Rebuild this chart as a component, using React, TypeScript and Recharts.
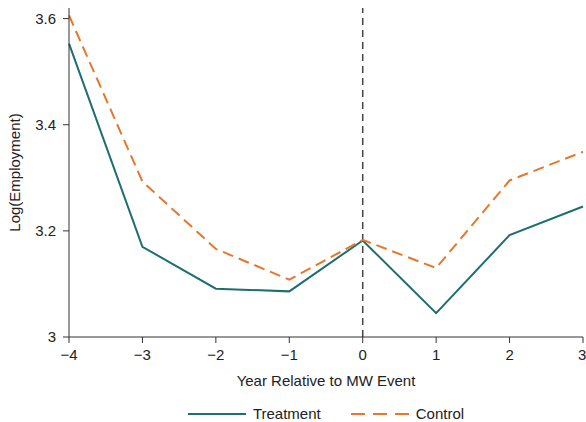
import { LineChart, Line, XAxis, YAxis, ReferenceLine, Legend } from 'recharts';

const years = [-4, -3, -2, -1, 0, 1, 2, 3];
const treatment = [3.553, 3.17, 3.091, 3.086, 3.182, 3.045, 3.192, 3.246];
const control = [3.606, 3.293, 3.166, 3.108, 3.183, 3.13, 3.295, 3.349];
const yTicks = [3, 3.2, 3.4, 3.6];

const data = years.map((year, i) => ({ year, Treatment: treatment[i], Control: control[i] }));

const font = "'Liberation Sans', Arial, sans-serif";
const teal = '#1d6e70';
const orange = '#e5772e';
const axisColor = '#333';

const minus = (v: number) => String(v).replace('-', '\u2212');

function LegendBox() {
  const items = [
    { name: 'Treatment', color: teal, dash: undefined },
    { name: 'Control', color: orange, dash: '14 8' },
  ];
  return (
    <div style={{ display: 'flex', justifyContent: 'center', alignItems: 'center', height: 35, paddingTop: 18, boxSizing: 'border-box', fontFamily: font, fontSize: 15, color: '#222' }}>
      {items.map((it, i) => (
        <div key={it.name} style={{ display: 'flex', alignItems: 'center', marginLeft: i ? 30 : 0 }}>
          <svg width={58} height={6} style={{ marginRight: 7 }}>
            <line x1={0} y1={3} x2={58} y2={3} stroke={it.color} strokeWidth={2} strokeDasharray={it.dash} />
          </svg>
          <span>{it.name}</span>
        </div>
      ))}
    </div>
  );
}

export default function App() {
  return (
    <div style={{ position: 'absolute', left: 0, top: 0, background: '#fff' }}>
      <LineChart width={586} height={422} data={data} margin={{ top: 8, right: 3, left: 0, bottom: 0 }}>
        <XAxis
          dataKey="year"
          type="number"
          domain={[-4, 3]}
          ticks={years}
          tickFormatter={minus}
          height={50}
          tickSize={6}
          tickMargin={6}
          stroke={axisColor}
          tick={{ fill: '#222', fontSize: 15, fontFamily: font }}
          label={{ value: 'Year Relative to MW Event', position: 'insideBottom', offset: 1, fill: '#222', fontSize: 15, fontFamily: font }}
        />
        <YAxis
          type="number"
          domain={[3, 3.62]}
          ticks={yTicks}
          width={69}
          tickSize={6}
          tickMargin={7}
          stroke={axisColor}
          tick={{ fill: '#222', fontSize: 15, fontFamily: font }}
          label={{ value: 'Log(Employment)', angle: -90, position: 'insideLeft', offset: 15, style: { textAnchor: 'middle' }, fill: '#222', fontSize: 15, fontFamily: font }}
        />
        <ReferenceLine x={0} stroke="#444" strokeWidth={1.5} strokeDasharray="7 5" />
        <Line type="linear" dataKey="Treatment" stroke={teal} strokeWidth={2} dot={false} isAnimationActive={false} />
        <Line type="linear" dataKey="Control" stroke={orange} strokeWidth={2} strokeDasharray="11 6" dot={false} isAnimationActive={false} />
        <Legend verticalAlign="bottom" wrapperStyle={{ left: 69, width: 514 }} content={() => <LegendBox />} />
      </LineChart>
    </div>
  );
}
